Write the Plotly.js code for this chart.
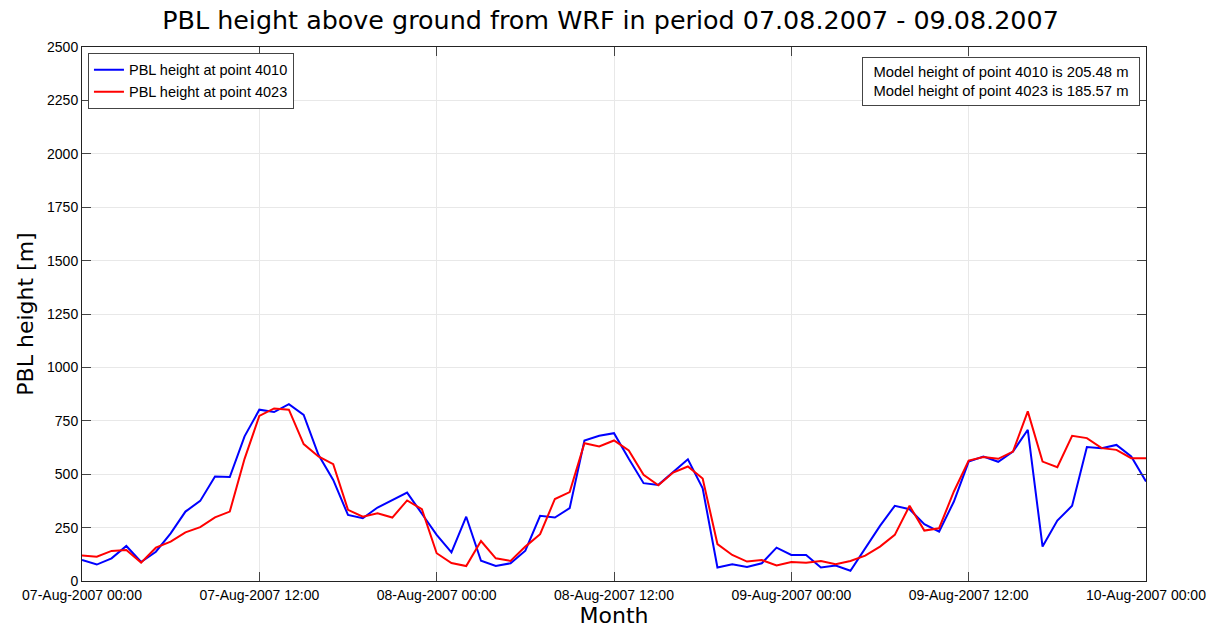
<!DOCTYPE html>
<html>
<head>
<meta charset="utf-8">
<script src="https://cdn.plot.ly/plotly-3.0.1.min.js"></script>
<style>html,body{margin:0;padding:0;background:#fff;}#chart{width:1221px;height:628px;}</style>
</head>
<body>
<div id="chart"></div>
<script>
// Hourly series from 07-Aug-2007 00:00 to 10-Aug-2007 00:00
const startTime = Date.UTC(2007, 7, 7, 0, 0);
const pbl4010 = [98, 77, 106, 164, 89, 137, 223, 325, 375, 489, 487, 677, 802, 791, 828, 778,
  591, 473, 309, 294, 344, 380, 414, 315, 216, 134, 301, 95, 70, 83, 142, 305, 297, 341, 658, 680,
  692, 572, 458, 450, 512, 570, 434, 63, 78, 66, 83, 156, 122, 122, 63, 72, 48, 153, 258, 352,
  336, 266, 231, 372, 559, 583, 558, 606, 708, 161, 283, 352, 627, 622, 637, 583, 466];
const pbl4023 = [119, 114, 141, 145, 86, 156, 184, 228, 252, 298, 325, 572, 773, 808, 802, 641,
  583, 547, 333, 301, 317, 297, 377, 336, 130, 84, 70, 187, 106, 94, 161, 219, 384, 416, 645, 630,
  658, 611, 497, 448, 508, 536, 480, 173, 122, 91, 98, 73, 89, 86, 94, 78, 94, 119, 161, 216,
  352, 236, 247, 419, 564, 580, 572, 606, 794, 559, 533, 680, 669, 622, 614, 575, 575];
const tickTimes = ['2007-08-07 00:00', '2007-08-07 12:00', '2007-08-08 00:00', '2007-08-08 12:00',
  '2007-08-09 00:00', '2007-08-09 12:00', '2007-08-10 00:00'];
const tickLabels = ['07-Aug-2007 00:00', '07-Aug-2007 12:00', '08-Aug-2007 00:00', '08-Aug-2007 12:00',
  '09-Aug-2007 00:00', '09-Aug-2007 12:00', '10-Aug-2007 00:00'];
const yTicks = [0, 250, 500, 750, 1000, 1250, 1500, 1750, 2000, 2250, 2500];
const seriesNames = ['PBL height at point 4010', 'PBL height at point 4023'];
const noteText = 'Model height of point 4010 is 205.48 m<br>Model height of point 4023 is 185.57 m';

function fmt(ms) {
  const d = new Date(ms);
  const p = n => String(n).padStart(2, '0');
  return d.getUTCFullYear() + '-' + p(d.getUTCMonth() + 1) + '-' + p(d.getUTCDate()) + ' ' + p(d.getUTCHours()) + ':00';
}
const times = pbl4010.map((_, i) => fmt(startTime + i * 3600000));

const font = 'Liberation Sans, Arial, sans-serif';
const titleFont = 'DejaVu Sans, sans-serif';
const traces = [
  {x: times, y: pbl4010, type: 'scatter', mode: 'lines', name: seriesNames[0], line: {color: '#0000ff', width: 2}},
  {x: times, y: pbl4023, type: 'scatter', mode: 'lines', name: seriesNames[1], line: {color: '#ff0000', width: 2}}
];
const axisCommon = {
  showline: true, linecolor: '#222', linewidth: 1, mirror: 'ticks',
  ticks: 'inside', ticklen: 9, tickcolor: '#444',
  showgrid: true, gridcolor: '#e8e8e8', gridwidth: 1,
  zeroline: false, tickfont: {family: font, size: 14, color: '#000'}
};
const layout = {
  width: 1221, height: 628,
  paper_bgcolor: '#fff', plot_bgcolor: '#fff',
  margin: {l: 82, r: 75, t: 47, b: 47},
  title: {text: 'PBL height above ground from WRF in period 07.08.2007 - 09.08.2007',
    font: {family: titleFont, size: 25.4, color: '#000'}, x: 0.5, xanchor: 'center', y: 0.968, yanchor: 'middle'},
  xaxis: Object.assign({}, axisCommon, {
    type: 'date', range: [tickTimes[0], tickTimes[tickTimes.length - 1]],
    tickmode: 'array', tickvals: tickTimes, ticktext: tickLabels, ticklabelstandoff: 1,
    title: {text: 'Month', font: {family: titleFont, size: 22, color: '#000'}, standoff: 0}
  }),
  yaxis: Object.assign({}, axisCommon, {
    range: [0, 2500], tickmode: 'array', tickvals: yTicks, ticktext: yTicks.map(String),
    title: {text: 'PBL height [m]', font: {family: titleFont, size: 22, color: '#000'}, standoff: 7}
  }),
  showlegend: true,
  legend: {x: 0.0056, y: 0.989, xanchor: 'left', yanchor: 'top', bgcolor: '#fff',
    bordercolor: '#444', borderwidth: 1, font: {family: font, size: 14.5, color: '#000'},
    tracegroupgap: 0},
  annotations: [{
    xref: 'paper', yref: 'paper', x: 0.9944, y: 0.981, xanchor: 'right', yanchor: 'top',
    text: noteText, showarrow: false, align: 'center', width: 264,
    font: {family: font, size: 14.8, color: '#000'},
    bordercolor: '#444', borderwidth: 1, borderpad: 6, bgcolor: '#fff'
  }]
};
Plotly.newPlot('chart', traces, layout, {displayModeBar: false, staticPlot: true});
</script>
</body>
</html>
